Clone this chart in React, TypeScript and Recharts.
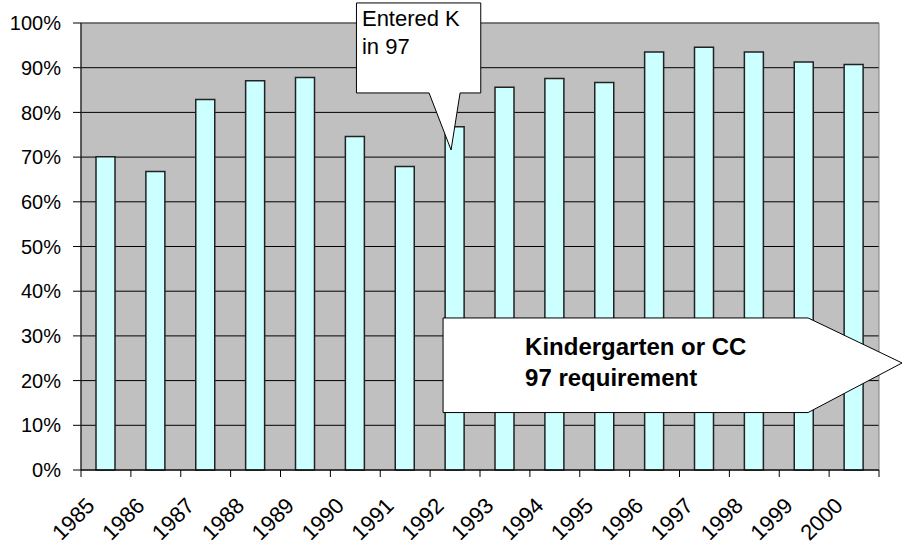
import React from 'react';
import {
  BarChart,
  Bar,
  XAxis,
  YAxis,
  CartesianGrid,
  ReferenceArea,
  ReferenceDot,
} from 'recharts';

const years = ['1985', '1986', '1987', '1988', '1989', '1990', '1991', '1992', '1993', '1994', '1995', '1996', '1997', '1998', '1999', '2000'];
const rates = [0.701, 0.668, 0.829, 0.871, 0.878, 0.746, 0.679, 0.768, 0.856, 0.876, 0.867, 0.935, 0.946, 0.935, 0.913, 0.907];
const yTicks = [0, 0.1, 0.2, 0.3, 0.4, 0.5, 0.6, 0.7, 0.8, 0.9, 1.0];
const calloutLines = ['Entered K', 'in 97'];
const arrowLines = ['Kindergarten or CC', '97 requirement'];
const calloutTarget = { year: '1992', value: 0.716 };
const arrowAnchor = { year: '1992', value: 0.235 };

const data = years.map((y, i) => ({ year: y, rate: rates[i] }));

const W = 902;
const H = 551;
const M = { top: 23, right: 23, bottom: 0, left: 0 };
const Y_W = 81;
const X_H = 81;
const PLOT_W = W - M.left - M.right - Y_W;
const BAND = PLOT_W / years.length;
const FONT = '"Liberation Sans", Arial, sans-serif';

const XTick = (props: any) => {
  const { x, y, payload, index } = props;
  const half = BAND / 2;
  const ax = x - 10;
  const ay = y + 37;
  return (
    <g>
      <line x1={x - half} x2={x - half} y1={y} y2={y + 7} stroke="#000" />
      {index === years.length - 1 && (
        <line x1={x + half} x2={x + half} y1={y} y2={y + 7} stroke="#000" />
      )}
      <text
        x={ax}
        y={ay}
        textAnchor="end"
        transform={`rotate(-45, ${ax}, ${ay})`}
        fontSize={22}
        fontFamily={FONT}
        fill="#000"
      >
        {payload.value}
      </text>
    </g>
  );
};

const Callout = (p: any) => {
  const { cx, cy } = p;
  const l = cx - 98.6, r = cx + 25.7, t = cy - 147, b = cy - 57;
  const tipX = cx - 4, tipY = cy;
  const b1 = cx - 26, b2 = cx + 5;
  const d = `M${l},${t} L${r},${t} L${r},${b} L${b2},${b} L${tipX},${tipY} L${b1},${b} L${l},${b} Z`;
  return (
    <g>
      <path d={d} fill="#fff" stroke="#000" strokeWidth={1} />
      {calloutLines.map((s, i) => (
        <text key={i} x={l + 5.5} y={t + 23 + i * 28} fontSize={22} fontFamily={FONT} fill="#000">
          {s}
        </text>
      ))}
    </g>
  );
};

const ArrowBox = (p: any) => {
  const { cx, cy } = p;
  const l = cx - 12, t = cy - 47, b = cy + 47.6, r = cx + 353;
  const tipX = cx + 447, tipY = cy - 2;
  const d = `M${l},${t} L${r},${t} L${tipX},${tipY} L${r},${b} L${l},${b} Z`;
  return (
    <g>
      <path d={d} fill="#fff" stroke="#000" strokeWidth={1} />
      {arrowLines.map((s, i) => (
        <text key={i} x={cx + 70} y={cy - 10 + i * 31} fontSize={24} fontWeight="bold" fontFamily={FONT} fill="#000">
          {s}
        </text>
      ))}
    </g>
  );
};

export default function App() {
  return (
    <div style={{ position: 'absolute', left: 0, top: 0 }}>
      <BarChart width={W} height={H} data={data} margin={M}>
        <CartesianGrid vertical={false} stroke="#000" fill="#C0C0C0" fillOpacity={1} />
        <ReferenceArea y1={0} y2={1} fill="none" stroke="#808080" strokeWidth={1} ifOverflow="visible" />
        <XAxis
          dataKey="year"
          type="category"
          interval={0}
          height={X_H}
          tickLine={false}
          tickSize={0}
          tickMargin={0}
          axisLine={{ stroke: '#000' }}
          tick={<XTick />}
        />
        <YAxis
          type="number"
          domain={[0, 1]}
          ticks={yTicks}
          width={Y_W}
          tickSize={8}
          tickMargin={12}
          axisLine={{ stroke: '#000' }}
          tickLine={{ stroke: '#000' }}
          tickFormatter={(v: number) => `${Math.round(v * 100)}%`}
          tick={{ fontSize: 20, fontFamily: FONT, fill: '#000' }}
        />
        <Bar dataKey="rate" fill="#CCFFFF" stroke="#222" strokeWidth={1.5} barSize={19} isAnimationActive={false} />
        <ReferenceDot
          x={calloutTarget.year}
          y={calloutTarget.value}
          r={1}
          shape={(p: any) => <Callout {...p} />}
        />
        <ReferenceDot
          x={arrowAnchor.year}
          y={arrowAnchor.value}
          r={1}
          shape={(p: any) => <ArrowBox {...p} />}
        />
      </BarChart>
    </div>
  );
}
